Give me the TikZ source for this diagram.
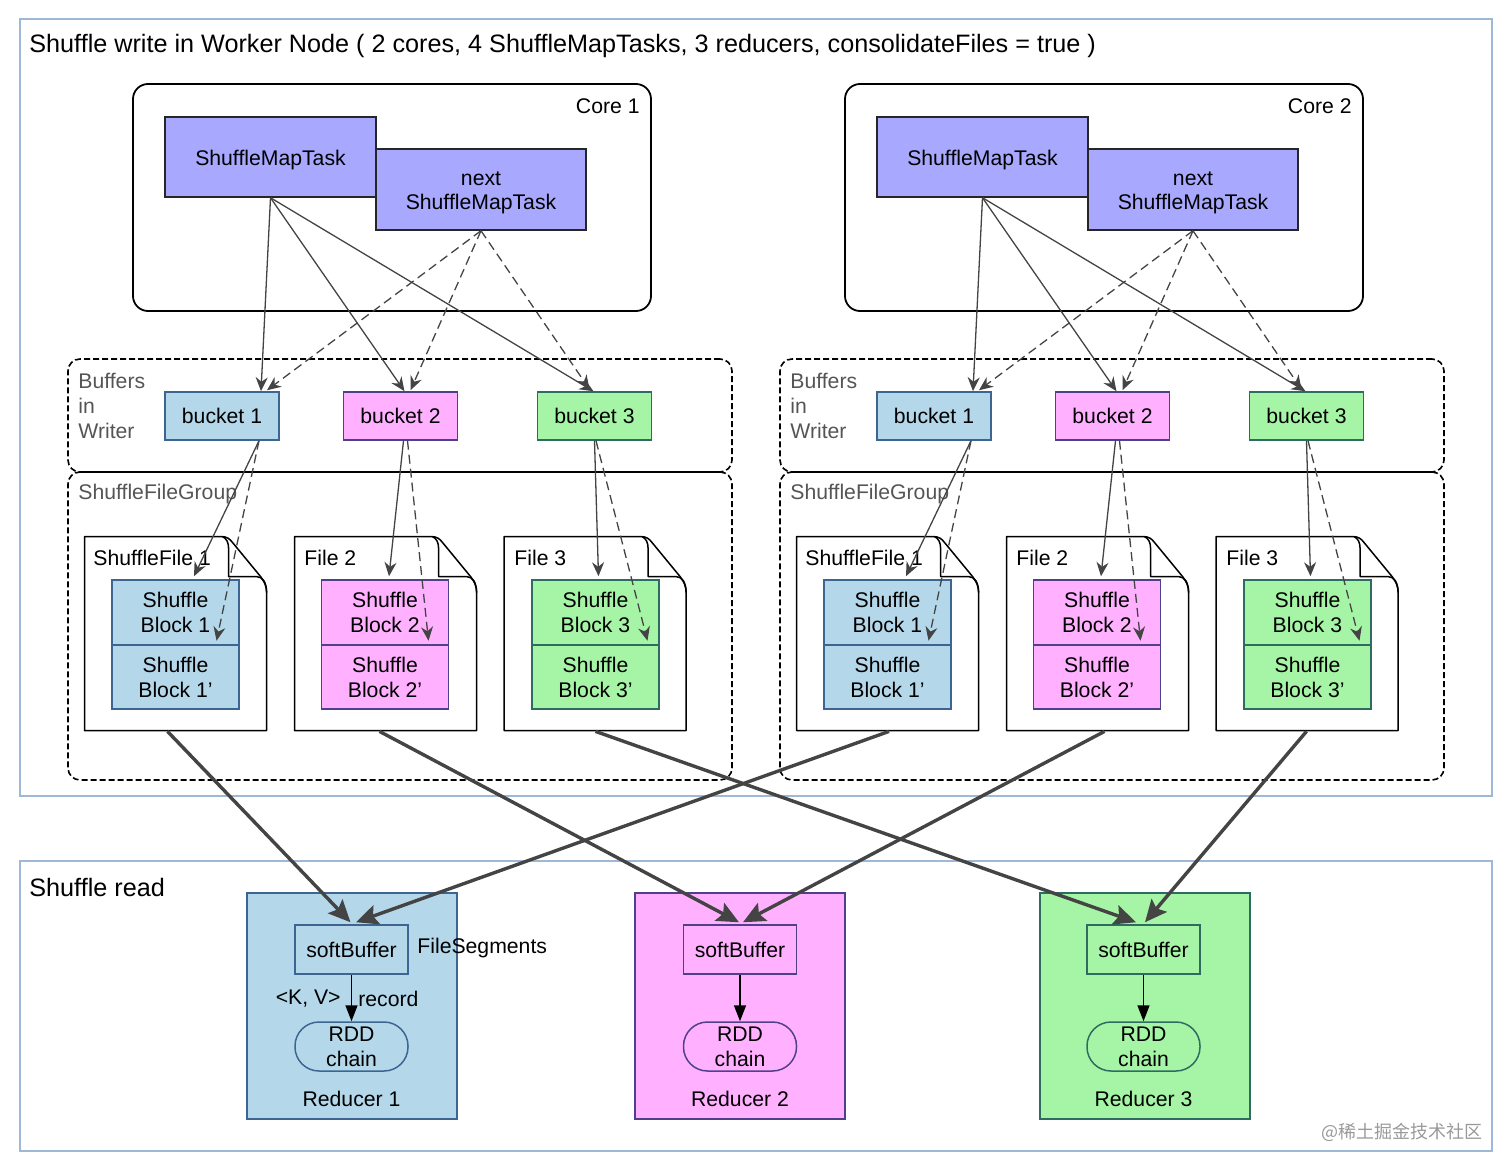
\documentclass[tikz,border=0pt]{standalone}
\usepackage{fontspec}
\setmainfont{Liberation Sans}
\newfontfamily\cjk{Noto Sans CJK SC}
\usetikzlibrary{arrows.meta,calc}
\definecolor{frameC}{HTML}{9DB9D5}
\definecolor{lav}{HTML}{A8A8FF}
\definecolor{blueF}{HTML}{B4D8EA}
\definecolor{blueD}{HTML}{3C6591}
\definecolor{pinkF}{HTML}{FFB1FF}
\definecolor{pinkD}{HTML}{50408C}
\definecolor{greenF}{HTML}{A6F5A6}
\definecolor{greenD}{HTML}{2E6B60}
\definecolor{arr}{HTML}{444444}
\definecolor{lbl}{HTML}{555555}
\newcommand\lowtxt[1]{\raisebox{-1.5pt}[\height][\depth]{#1}}
\tikzset{
  txt/.style={font=\fontsize{10.6}{12.5}\selectfont, inner sep=0pt},
  bigtxt/.style={font=\fontsize{12.6}{15}\selectfont, inner sep=0pt},
  smt/.style={draw=black!85, fill=lav, line width=0.75pt, txt, align=center, minimum width=105.5pt, minimum height=40pt},
  bluebox/.style={draw=blueD, fill=blueF, line width=0.75pt, txt, align=center},
  pinkbox/.style={draw=pinkD, fill=pinkF, line width=0.75pt, txt, align=center},
  greenbox/.style={draw=greenD, fill=greenF, line width=0.75pt, txt, align=center},
  bk/.style={minimum width=57pt, minimum height=24pt},
  blka/.style={minimum width=63.5pt, minimum height=32.5pt},
  blkb/.style={minimum width=63.5pt, minimum height=32pt},
  corebox/.style={draw=black, line width=0.9pt, rounded corners=7.5pt, inner sep=0pt},
  grpbox/.style={draw=black, line width=0.8pt, dash pattern=on 3pt off 1.5pt, rounded corners=6pt, inner sep=0pt},
  frame/.style={draw=frameC, line width=0.9pt},
  filebox/.style={draw=black, line width=0.75pt, line join=round},
  filenode/.style={minimum width=91pt, minimum height=97pt, inner sep=0pt},
  grey/.style={txt, text=lbl},
  thinarr/.style={draw=arr, line width=0.65pt, -{Stealth[length=7pt,width=6pt]}},
  dasharr/.style={thinarr, dash pattern=on 4.5pt off 2.5pt},
  thickarr/.style={draw=arr, line width=1.7pt, -{Stealth[length=11pt,width=10pt,inset=2pt]}},
  blackarr/.style={draw=black, line width=0.8pt, -{Triangle[length=8pt,width=6pt]}},
  sbuf/.style={minimum width=56.5pt, minimum height=24.5pt},
  rdd/.style={minimum width=56.5pt, minimum height=24.5pt, rounded corners=12pt},
  red/.style={minimum width=105pt, minimum height=113pt, line width=0.8pt}
}
\newcommand\filepath[1]{%
  \begin{scope}[shift={(#1.north west)}]
    \fill[white] (0,0) -- (140,0) -- (182,50) -- (182,194) -- (0,194) -- cycle;
    \draw[filebox] (0,0) -- (137,0) .. controls (142,0) and (145,2) .. (148,6)
      -- (176,40) .. controls (180,45) and (182,50) .. (182,56) -- (182,194) -- (0,194) -- cycle;
    \draw[filebox] (138,0) .. controls (142,2) and (144,6) .. (144,12) -- (144,40)
      -- (172,40) .. controls (178,40) and (182,46) .. (182,56);
  \end{scope}}
\begin{document}
\begin{tikzpicture}[x=0.5pt,y=-0.5pt]
\useasboundingbox (0,0) rectangle (1512,1172);
% frames
\draw[frame] (20,19) rectangle (1492,796);
\draw[frame] (20,861) rectangle (1492,1151);
\node[bigtxt, anchor=west] (title) at (29,46) {Shuffle write in Worker Node ( 2 cores, 4 ShuffleMapTasks, 3 reducers, consolidateFiles = true )};
\node[bigtxt, anchor=west] (readttl) at (29,887) {Shuffle read};

\foreach \s/\dx/\n in {L/0/1,R/712/2}{
  \node[corebox, minimum width=259pt, minimum height=113.5pt] (core\s) at (392+\dx,197.5) {};
  \node[txt, anchor=east] (corelbl\s) at (640+\dx,106) {Core \n};
  \node[grpbox, minimum width=332pt, minimum height=56.5pt] (buf\s) at (400+\dx,415.5) {};
  \node[grpbox, minimum width=332pt, minimum height=154pt] (grp\s) at (400+\dx,626) {};
  \node[grey, anchor=west, align=left] (buflbl\s) at (78+\dx,406) {Buffers\\in\\Writer};
  \node[grey, anchor=west] (grplbl\s) at (78+\dx,494) {ShuffleFileGroup};
  \node[smt] (t\s) at (270.5+\dx,157) {\lowtxt{ShuffleMapTask}};
  \node[smt, minimum width=105pt, minimum height=40.5pt] (nx\s) at (481+\dx,189.5) {\lowtxt{\begin{tabular}{@{}c@{}}next\\ShuffleMapTask\end{tabular}}};
  \node[bluebox, bk] (b1\s) at (222+\dx,416) {bucket 1};
  \node[pinkbox, bk] (b2\s) at (400.5+\dx,416) {bucket 2};
  \node[greenbox, bk] (b3\s) at (594.5+\dx,416) {bucket 3};
  % files
  \node[filenode] (f1\s) at (176+\dx,634) {};
  \node[filenode] (f2\s) at (386+\dx,634) {};
  \node[filenode] (f3\s) at (595.5+\dx,634) {};
  \filepath{f1\s}
  \filepath{f2\s}
  \filepath{f3\s}
  \node[txt, anchor=west] (fl1\s) at (93+\dx,558) {ShuffleFile 1};
  \node[txt, anchor=west] (fl2\s) at (304+\dx,558) {File 2};
  \node[txt, anchor=west] (fl3\s) at (514+\dx,558) {File 3};
  \node[bluebox, blka] (k1\s) at (175.5+\dx,612.5) {Shuffle\\Block 1};
  \node[bluebox, blkb] (kk1\s) at (175.5+\dx,677) {Shuffle\\Block 1’};
  \node[pinkbox, blka] (k2\s) at (385+\dx,612.5) {Shuffle\\Block 2};
  \node[pinkbox, blkb] (kk2\s) at (385+\dx,677) {Shuffle\\Block 2’};
  \node[greenbox, blka] (k3\s) at (595.5+\dx,612.5) {Shuffle\\Block 3};
  \node[greenbox, blkb] (kk3\s) at (595.5+\dx,677) {Shuffle\\Block 3’};
  % task -> bucket
  \draw[thinarr] (t\s.south) -- ($(b1\s.north)+(39,0)$);
  \draw[thinarr] (t\s.south) -- ($(b2\s.north)+(4,0)$);
  \draw[thinarr] (t\s.south) -- ($(b3\s.north)+(-1,0)$);
  \draw[dasharr] (nx\s.south) -- ($(b1\s.north)+(45,-1)$);
  \draw[dasharr] (nx\s.south) -- ($(b2\s.north)+(10,-1)$);
  \draw[dasharr] (nx\s.south) -- ($(b3\s.north)+(-5,-2)$);
  % bucket -> block
  \draw[thinarr] ($(b1\s.south)+(37,0)$) -- ($(k1\s.north)+(18.5,-3)$);
  \draw[dasharr] ($(b1\s.south)+(37,0)$) -- ($(k1\s.south)+(41,-5)$);
  \draw[thinarr] ($(b2\s.south)+(3,0)$) -- ($(k2\s.north)+(4,-3)$);
  \draw[dasharr] ($(b2\s.south)+(7,0)$) -- ($(k2\s.south)+(43.5,-5)$);
  \draw[thinarr] ($(b3\s.south)+(0,0)$) -- ($(k3\s.north)+(3,-3)$);
  \draw[dasharr] ($(b3\s.south)+(1.5,0)$) -- ($(k3\s.south)+(52,-5)$);
}

% reducers
\node[bluebox, red] (r1) at (352,1006) {};
\node[pinkbox, red] (r2) at (740,1006) {};
\node[greenbox, red] (r3) at (1145,1006) {};
\node[bluebox, sbuf] (sb1) at (351.5,949.5) {softBuffer};
\node[pinkbox, sbuf] (sb2) at (740,949.5) {softBuffer};
\node[greenbox, sbuf] (sb3) at (1143.5,949.5) {softBuffer};
\node[bluebox, rdd] (rdd1) at (351.5,1046.5) {RDD\\chain};
\node[pinkbox, rdd] (rdd2) at (740,1046.5) {RDD\\chain};
\node[greenbox, rdd] (rdd3) at (1143.5,1046.5) {RDD\\chain};
\node[txt] (rl1) at (351.5,1099) {Reducer 1};
\node[txt] (rl2) at (740,1099) {Reducer 2};
\node[txt] (rl3) at (1143.5,1099) {Reducer 3};
\node[txt, anchor=west] (fseg) at (417,948) {FileSegments};
\node[txt, anchor=east] (kv) at (341,999) {<K, V>};
\node[txt, anchor=west] (rec) at (358,999) {record};
\draw[blackarr] (sb1) -- (rdd1);
\draw[blackarr] (sb2) -- (rdd2);
\draw[blackarr] (sb3) -- (rdd3);

% shuffle read arrows
\draw[thickarr] ($(f1L.south)+(-8.5,0)$) -- ($(sb1.north)+(-1,-2)$);
\draw[thickarr] ($(f1R.south)+(1,0)$) -- ($(sb1.north)+(4.5,-2)$);
\draw[thickarr] ($(f2L.south)+(-6.5,0)$) -- ($(sb2.north)+(-1,-2)$);
\draw[thickarr] ($(f2R.south)+(6.5,0)$) -- ($(sb2.north)+(3,-2)$);
\draw[thickarr] ($(f3L.south)+(0,0)$) -- ($(sb3.north)+(-7.5,-2)$);
\draw[thickarr] ($(f3R.south)+(-1,0)$) -- ($(sb3.north)+(1.5,-2)$);

\node[font=\cjk\fontsize{9}{11}\selectfont, text=black!40, anchor=east, inner sep=0pt] (wm) at (1483,1132) {@稀土掘金技术社区};
\end{tikzpicture}
\end{document}
